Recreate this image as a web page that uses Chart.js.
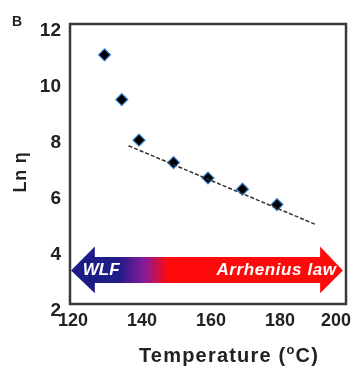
<!DOCTYPE html>
<html>
<head>
<meta charset="utf-8">
<script src="https://cdn.jsdelivr.net/npm/chart.js@4"></script>
<style>
  html, body { margin: 0; padding: 0; background: #fff; }
  #wrap { width: 357px; height: 369px; position: relative; }
</style>
</head>
<body>
<div id="wrap"><canvas id="viscChart"></canvas></div>
<script>
// ---- data ----
const temps = [130, 135, 140, 150, 160, 170, 180];
const lnEta = [10.9, 9.3, 7.85, 7.05, 6.5, 6.1, 5.55];
const fitTemps = [137, 191];
const fitLnEta = [7.65, 4.85];
const xTicks = [120, 140, 160, 180, 200];
const yTicks = [2, 4, 6, 8, 10, 12];
const arrowLabels = ["WLF", "Arrhenius law"];
const panelLabel = "B";
const xTitle = ["Temperature (", "o", "C)"];
const yTitle = "Ln η";

const FONT = "'Liberation Sans', Arial, sans-serif";

// frame, panel letter, x tick labels and axis titles
const framePlugin = {
    id: "frame",
    afterDraw(chart) {
        const { ctx, chartArea: a, scales } = chart;
        ctx.save();
        ctx.strokeStyle = "#3a3a3a";
        ctx.lineWidth = 2.5;
        ctx.strokeRect(a.left, a.top, a.right - a.left, a.bottom - a.top);

        ctx.fillStyle = "#222";
        ctx.font = "bold 14px " + FONT;
        ctx.textAlign = "left";
        ctx.textBaseline = "middle";
        ctx.fillText(panelLabel, 12, 22);

        // x tick labels, last one pulled inside the canvas like the original
        ctx.font = "bold 18px " + FONT;
        ctx.textAlign = "center";
        scales.x.ticks.forEach(t => {
            const txt = String(t.value);
            const w = ctx.measureText(txt).width;
            let px = scales.x.getPixelForValue(t.value) + 3;
            px = Math.min(px, 351 - w / 2);
            ctx.fillText(txt, px, a.bottom + 17);
        });

        // x title with superscript o
        ctx.letterSpacing = "1.2px";
        ctx.textAlign = "left";
        ctx.font = "bold 20px " + FONT;
        const w1 = ctx.measureText(xTitle[0]).width;
        const w3 = ctx.measureText(xTitle[2]).width;
        ctx.font = "bold 13px " + FONT;
        const w2 = ctx.measureText(xTitle[1]).width;
        let x = 229 - (w1 + w2 + w3) / 2;
        const y = 356;
        ctx.font = "bold 20px " + FONT;
        ctx.fillText(xTitle[0], x, y);
        x += w1;
        ctx.font = "bold 13px " + FONT;
        ctx.fillText(xTitle[1], x, y - 6);
        x += w2;
        ctx.font = "bold 20px " + FONT;
        ctx.fillText(xTitle[2], x, y);
        ctx.letterSpacing = "0px";

        // y title
        ctx.translate(21, 172);
        ctx.rotate(-Math.PI / 2);
        ctx.textAlign = "center";
        ctx.font = "bold 18px " + FONT;
        ctx.letterSpacing = "0.8px";
        ctx.fillText(yTitle, 0, 0);
        ctx.restore();
    }
};

// WLF / Arrhenius double arrow, positioned in data units
const arrowPlugin = {
    id: "regimeArrow",
    beforeDatasetsDraw(chart) {
        const { ctx, scales: { x, y } } = chart;
        const xl = x.getPixelForValue(120.3), xr = x.getPixelForValue(199.1);
        const hl = x.getPixelForValue(127.2), hr = x.getPixelForValue(192.5);
        const yc = y.getPixelForValue(3.2);
        const sTop = y.getPixelForValue(3.68), sBot = y.getPixelForValue(2.75);
        const hTop = y.getPixelForValue(4.05), hBot = y.getPixelForValue(2.38);

        ctx.save();
        const g = ctx.createLinearGradient(xl, 0, xr, 0);
        const span = xr - xl;
        g.addColorStop(0, "#1c1c86");
        g.addColorStop((118 - xl) / span, "#1f1c88");
        g.addColorStop((145 - xl) / span, "#8a1a9a");
        g.addColorStop((168 - xl) / span, "#ff0a0a");
        g.addColorStop(1, "#ff0a0a");
        ctx.fillStyle = g;
        ctx.beginPath();
        ctx.moveTo(xl, yc);
        ctx.lineTo(hl, hTop);
        ctx.lineTo(hl, sTop);
        ctx.lineTo(hr, sTop);
        ctx.lineTo(hr, hTop);
        ctx.lineTo(xr, yc);
        ctx.lineTo(hr, hBot);
        ctx.lineTo(hr, sBot);
        ctx.lineTo(hl, sBot);
        ctx.lineTo(hl, hBot);
        ctx.closePath();
        ctx.fill();

        ctx.fillStyle = "#ffffff";
        ctx.font = "italic bold 17px " + FONT;
        ctx.textBaseline = "middle";
        ctx.textAlign = "left";
        ctx.fillText(arrowLabels[0], x.getPixelForValue(123.7), yc);
        ctx.textAlign = "right";
        ctx.letterSpacing = "0.6px";
        ctx.fillText(arrowLabels[1], x.getPixelForValue(197.3), yc);
        ctx.restore();
    }
};

new Chart(document.getElementById("viscChart").getContext("2d"), {
    type: "scatter",
    data: {
        datasets: [
            {
                label: "fit",
                type: "line",
                data: fitTemps.map((t, i) => ({ x: t, y: fitLnEta[i] })),
                borderColor: "#333",
                borderWidth: 1.5,
                borderDash: [4, 2],
                pointRadius: 0,
                fill: false
            },
            {
                label: "Ln eta",
                data: temps.map((t, i) => ({ x: t, y: lnEta[i] })),
                pointStyle: "rectRot",
                pointRadius: 6,
                backgroundColor: "#000",
                borderColor: "#3b86d6",
                borderWidth: 1.2
            }
        ]
    },
    options: {
        responsive: true,
        maintainAspectRatio: false,
        animation: false,
        layout: { padding: { top: 24, right: 11, left: 0, bottom: 0 } },
        plugins: {
            legend: { display: false },
            tooltip: { enabled: false }
        },
        scales: {
            x: {
                type: "linear",
                min: 120,
                max: 200,
                afterFit(s) { s.height = 65; s.paddingLeft = 0; s.paddingRight = 0; },
                afterBuildTicks(s) { s.ticks = xTicks.map(v => ({ value: v })); },
                grid: { display: false, drawTicks: false },
                border: { display: false },
                ticks: { display: false }
            },
            y: {
                min: 2,
                max: 12,
                afterFit(s) { s.width = 70; s.paddingTop = 0; s.paddingBottom = 0; },
                afterBuildTicks(s) { s.ticks = yTicks.map(v => ({ value: v })); },
                grid: { display: false, drawTicks: false },
                border: { display: false },
                ticks: {
                    padding: 9,
                    labelOffset: 7,
                    font: { family: FONT, size: 19, weight: "bold" },
                    color: "#222"
                }
            }
        }
    },
    plugins: [arrowPlugin, framePlugin]
});
</script>
</body>
</html>
